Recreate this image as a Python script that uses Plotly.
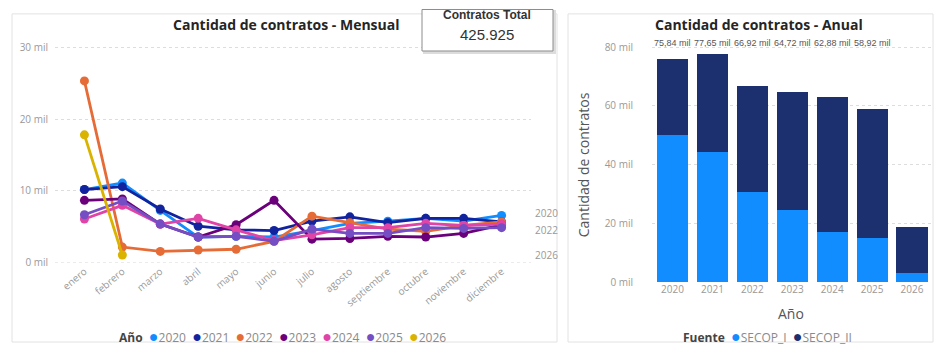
import plotly.graph_objects as go

# page body has an 8px margin: draw the figure 16px smaller and map reference pixels
OFF = 8
W, H = 942 - 2 * OFF, 358 - 2 * OFF
def px(x): return (x - OFF) / W
def py(y): return 1 - (y - OFF) / H

# ---------------- data ----------------
months = ["enero", "febrero", "marzo", "abril", "mayo", "junio", "julio",
          "agosto", "septiembre", "octubre", "noviembre", "diciembre"]
years = ["2020", "2021", "2022", "2023", "2024", "2025", "2026"]
year_colors = ["#118DFF", "#12239E", "#E66C37", "#6B007B", "#E044A7", "#744EC2", "#D9B300"]

# monthly contracts (thousands)
m2020 = [10.2, 11.1, 7.3, 3.6, 3.7, 3.6, 4.5, 5.5, 5.8, 6.2, 5.8, 6.6]
m2021 = [10.2, 10.6, 7.5, 5.1, 4.6, 4.5, 5.8, 6.4, 5.6, 6.2, 6.2, 5.7]
m2022 = [25.3, 2.2, 1.6, 1.8, 1.9, 3.0, 6.5, 5.6, 4.7, 4.4, 5.2, 5.7]
m2023 = [8.7, 8.9, 5.4, 3.6, 5.3, 8.7, 3.3, 3.4, 3.7, 3.6, 4.1, 5.3]
m2024 = [6.1, 8.0, 5.4, 6.2, 4.6, 3.1, 3.9, 4.9, 4.9, 5.5, 5.2, 5.4]
m2025 = [6.7, 8.6, 5.4, 3.6, 3.7, 3.0, 4.7, 4.1, 4.1, 4.9, 4.8, 4.9]
m2026 = [17.8, 1.1]
monthly = [m2020, m2021, m2022, m2023, m2024, m2025, m2026]
end_labels = ["2020", "2022", "2026"]

line_ticks = [0, 10, 20, 30]
line_tick_text = ["0 mil", "10 mil", "20 mil", "30 mil"]

# annual contracts by source (thousands)
fuentes = ["SECOP_I", "SECOP_II"]
fuente_colors = ["#118DFF", "#1C2F6E"]
secop_i = [50.0, 44.3, 30.7, 24.7, 17.3, 15.0, 3.3]
secop_ii = [25.84, 33.35, 36.22, 40.02, 45.58, 43.92, 15.7]
total_labels = ["75,84 mil", "77,65 mil", "66,92 mil", "64,72 mil", "62,88 mil", "58,92 mil", ""]
bar_ticks = [0, 20, 40, 60, 80]
bar_tick_text = ["0 mil", "20 mil", "40 mil", "60 mil", "80 mil"]

contratos_total = 425925

FONT = "Open Sans"
GRAY = "#8a8a8a"

fig = go.Figure()

# ---------------- line chart ----------------
for name, col, vals in zip(years, year_colors, monthly):
    fig.add_trace(go.Scatter(
        x=months[:len(vals)], y=vals, mode="lines+markers", name=name,
        line=dict(color=col, width=2.8), marker=dict(color=col, size=9),
        showlegend=False, xaxis="x", yaxis="y"))

# ---------------- bar chart ----------------
for name, col, vals in zip(fuentes, fuente_colors, [secop_i, secop_ii]):
    fig.add_trace(go.Bar(
        x=years, y=vals, name=name, marker=dict(color=col, line=dict(width=0)),
        showlegend=False, xaxis="x2", yaxis="y2"))

line_top, line_bot = 40, 268
line_ymax = 30 * (line_bot - line_top) / (line_bot - 47)
bar_top, bar_bot = 40, 288
bar_ymax = 80 * (bar_bot - bar_top) / (bar_bot - 47)

fig.update_layout(
    width=W, height=H, margin=dict(l=0, r=0, t=0, b=0),
    paper_bgcolor="white", plot_bgcolor="white",
    font=dict(family=FONT, color=GRAY, size=10),
    barmode="stack", bargap=0.22,
    xaxis=dict(domain=[px(55), px(531)], type="category", tickangle=-40,
               showgrid=False, zeroline=False, showline=False, ticks="",
               tickfont=dict(size=10, color="#999999")),
    yaxis=dict(domain=[py(line_bot), py(line_top)], range=[0, line_ymax],
               tickvals=line_ticks, ticktext=line_tick_text,
               showgrid=True, gridcolor="#dddddd", griddash="dot", gridwidth=1,
               zeroline=False, showline=False, ticks="", ticklabelstandoff=6,
               tickfont=dict(size=10, color="#999999")),
    xaxis2=dict(domain=[px(652), px(932)], type="category", anchor="y2",
                showgrid=False, zeroline=False, showline=False, ticks="",
                tickfont=dict(size=10, color="#999999")),
    yaxis2=dict(domain=[py(bar_bot), py(bar_top)], range=[0, bar_ymax], anchor="x2",
                tickvals=bar_ticks, ticktext=bar_tick_text,
                showgrid=True, gridcolor="#dddddd", griddash="dot", gridwidth=1,
                zeroline=False, showline=False, ticks="", ticklabelstandoff=18,
                tickfont=dict(size=10, color="#999999")),
)

shapes = [
    dict(type="rect", xref="paper", yref="paper", x0=px(12), x1=px(557), y0=py(349), y1=py(13),
         line=dict(color="#e2e2e2", width=1), layer="below"),
    dict(type="rect", xref="paper", yref="paper", x0=px(568), x1=px(933), y0=py(349), y1=py(13),
         line=dict(color="#e2e2e2", width=1), layer="below"),
    dict(type="line", xref="x domain", yref="y", x0=0, x1=1, y0=0, y1=0,
         line=dict(color="#dddddd", width=1, dash="dot"), layer="below"),
    dict(type="rect", xref="paper", yref="paper", x0=px(424), x1=px(555), y0=py(53), y1=py(10),
         line=dict(color="#dcdcdc", width=2), fillcolor="#dcdcdc", layer="above"),
    dict(type="rect", xref="paper", yref="paper", x0=px(422), x1=px(553), y0=py(51), y1=py(8.5),
         line=dict(color="#8c8c8c", width=1), fillcolor="white", layer="above"),
]

ann = []
ann.append(dict(text="<b>Cantidad de contratos - Mensual</b>", x=px(286), y=py(24),
                xref="paper", yref="paper", showarrow=False, xanchor="center", yanchor="middle",
                font=dict(family=FONT, size=14, color="#252525")))
ann.append(dict(text="<b>Cantidad de contratos - Anual</b>", x=px(759), y=py(24),
                xref="paper", yref="paper", showarrow=False, xanchor="center", yanchor="middle",
                font=dict(family=FONT, size=14, color="#252525")))
ann.append(dict(text="<b>Contratos Total</b>", x=px(487), y=py(14),
                xref="paper", yref="paper", showarrow=False, xanchor="center", yanchor="middle",
                font=dict(family="Liberation Sans", size=12, color="#333333")))
ann.append(dict(text=f"{contratos_total:,}".replace(",", "."), x=px(487), y=py(34),
                xref="paper", yref="paper", showarrow=False, xanchor="center", yanchor="middle",
                font=dict(family="Liberation Sans", size=15, color="#333333")))

# end-of-series labels on the line chart
label_shift = {"2020": 2, "2022": -8, "2026": 0}
for name, vals in zip(years, monthly):
    if name in end_labels:
        ann.append(dict(text=name, x=px(533), y=vals[-1], xref="paper", yref="y",
                        showarrow=False, xanchor="left", yanchor="middle",
                        yshift=label_shift[name], font=dict(size=10, color="#999999")))

# totals on top of bars (category index on the bar axis)
for i, lab in enumerate(total_labels):
    if lab:
        ann.append(dict(text=lab, x=i, y=py(43), xref="x2", yref="paper",
                        showarrow=False, xanchor="center", yanchor="middle",
                        font=dict(family="Liberation Sans", size=9, color="#555555")))

# axis titles of the bar chart
ann.append(dict(text="Cantidad de contratos", x=px(583), y=py(168), xref="paper", yref="paper",
                textangle=-90, showarrow=False, xanchor="center", yanchor="middle",
                font=dict(family=FONT, size=14, color="#555555")))
ann.append(dict(text="Año", x=px(791), y=py(320), xref="paper", yref="paper",
                showarrow=False, xanchor="center", yanchor="middle",
                font=dict(family=FONT, size=14, color="#555555")))

# legends (compact, Power BI style)
def legend_text(title, names, cols):
    items = "\u00a0\u00a0".join(
        f"<span style='color:{c};font-size:16px'>●</span><span style='color:{GRAY}'>{n}</span>"
        for n, c in zip(names, cols))
    return f"<b>{title}</b>\u00a0\u00a0" + items

ann.append(dict(text=legend_text("Año", years, year_colors), x=px(117), y=py(343),
                xref="paper", yref="paper", showarrow=False, xanchor="left", yanchor="middle",
                font=dict(family=FONT, size=12, color="#444444")))
ann.append(dict(text=legend_text("Fuente", fuentes, fuente_colors), x=px(681), y=py(343),
                xref="paper", yref="paper", showarrow=False, xanchor="left", yanchor="middle",
                font=dict(family=FONT, size=12, color="#444444")))

fig.update_layout(shapes=shapes, annotations=ann)
fig.write_html("out.html")
